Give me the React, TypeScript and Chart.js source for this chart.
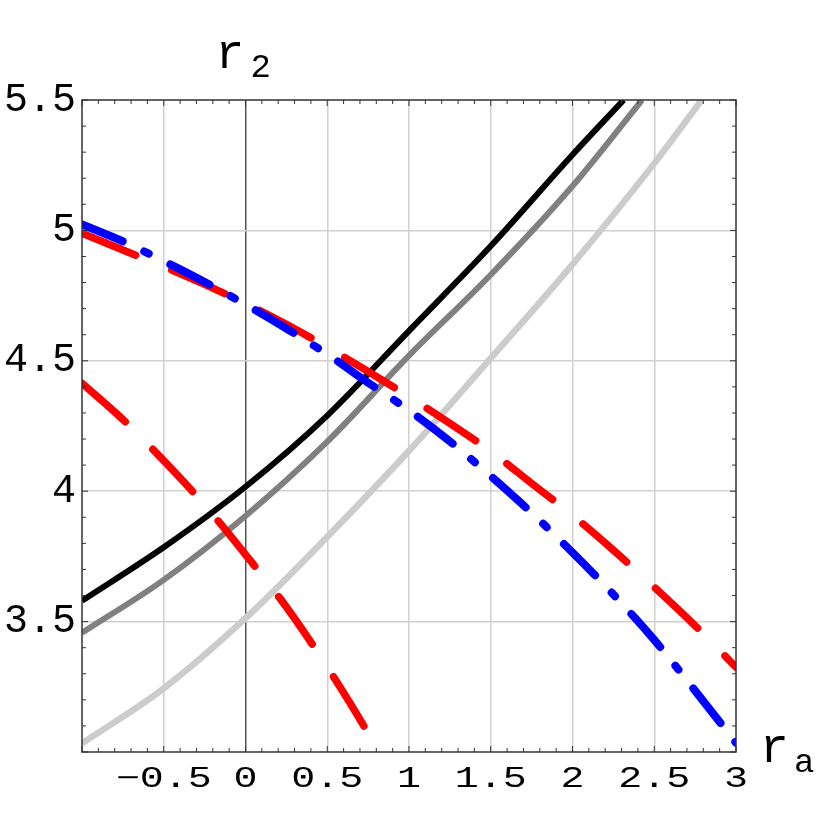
import React, { useEffect, useRef } from 'react';
import { Chart, registerables } from 'chart.js';

Chart.register(...registerables);

// ---- data ----
const xBlack = [-1, -0.5, 0, 0.5, 1, 1.5, 2, 2.313];
const yBlack = [3.58, 3.785, 4.017, 4.29, 4.615, 4.94, 5.29, 5.5];

const xGray = [-1, -0.5, 0, 0.5, 1, 1.5, 2, 2.425];
const yGray = [3.457, 3.66, 3.905, 4.19, 4.52, 4.83, 5.17, 5.5];

const xLight = [-1, -0.5, 0, 0.5, 1, 1.5, 2, 2.5, 2.79];
const yLight = [3.033, 3.244, 3.513, 3.825, 4.155, 4.51, 4.87, 5.257, 5.5];

const xRedUpper = [-1, -0.75, -0.5, -0.25, 0, 0.25, 0.5, 0.75, 1, 1.25, 1.5, 1.75, 2, 2.25, 2.5, 2.75, 3];
const yRedUpper = [4.989, 4.925, 4.861, 4.793, 4.72, 4.64, 4.552, 4.459, 4.362, 4.26, 4.153, 4.03, 3.908, 3.774, 3.632, 3.484, 3.325];

const xBlue = [-1, -0.75, -0.5, -0.25, 0, 0.25, 0.5, 0.75, 1, 1.25, 1.5, 1.75, 2, 2.25, 2.5, 2.75, 3];
const yBlue = [5.023, 4.958, 4.882, 4.802, 4.716, 4.624, 4.525, 4.416, 4.31, 4.191, 4.058, 3.917, 3.765, 3.604, 3.43, 3.235, 3.035];

const xRedLower = [-1, -0.75, -0.5, -0.25, 0, 0.25, 0.5, 0.75, 0.8];
const yRedLower = [4.414, 4.275, 4.117, 3.947, 3.757, 3.556, 3.326, 3.072, 3.015];

const xTickValues = [-1, -0.5, 0, 0.5, 1, 1.5, 2, 2.5, 3];
const xTickLabels = ['', '\u22120.5', '0', '0.5', '1', '1.5', '2', '2.5', '3'];
const yTickValues = [3, 3.5, 4, 4.5, 5, 5.5];
const yTickLabels = ['', '3.5', '4', '4.5', '5', '5.5'];

const xAxisTitle = 'r';
const xAxisSub = 'a';
const yAxisTitle = 'r';
const yAxisSub = '2';

const FONT = '"Liberation Mono", "Courier New", monospace';

function pts(xs: number[], ys: number[]) {
  return xs.map((x, i) => ({ x, y: ys[i] }));
}

function labelFor(values: number[], labels: string[], v: number) {
  const i = values.findIndex((t) => Math.abs(t - v) < 1e-9);
  return i >= 0 ? labels[i] : '';
}

const framePlugin = {
  id: 'framePlugin',
  afterDraw(chart: any) {
    const { ctx, chartArea } = chart;
    const xs = chart.scales.x;
    const ys = chart.scales.y;
    const { left, right, top, bottom } = chartArea;
    ctx.save();
    // minor / major tick marks, inward, all four sides
    ctx.strokeStyle = '#333';
    ctx.lineWidth = 1;
    for (let k = -10; k <= 30; k++) {
      const v = k / 10;
      const px = xs.getPixelForValue(v);
      const major = k % 5 === 0;
      const len = major ? 6 : 4;
      ctx.beginPath();
      ctx.moveTo(px, bottom);
      ctx.lineTo(px, bottom - len);
      ctx.moveTo(px, top);
      ctx.lineTo(px, top + len);
      ctx.stroke();
    }
    for (let k = 30; k <= 55; k++) {
      const v = k / 10;
      const py = ys.getPixelForValue(v);
      const major = k % 5 === 0;
      const len = major ? 6 : 4;
      ctx.beginPath();
      ctx.moveTo(left, py);
      ctx.lineTo(left + len, py);
      ctx.moveTo(right, py);
      ctx.lineTo(right - len, py);
      ctx.stroke();
    }
    // frame
    ctx.strokeStyle = '#333';
    ctx.lineWidth = 1.5;
    ctx.strokeRect(left, top, right - left, bottom - top);

    // x tick labels (drawn slightly compressed vertically, as in the reference)
    ctx.fillStyle = '#000';
    ctx.font = `40px ${FONT}`;
    ctx.textAlign = 'center';
    ctx.textBaseline = 'alphabetic';
    xTickValues.forEach((v, i) => {
      const label = xTickLabels[i];
      if (!label) return;
      const px = xs.getPixelForValue(v);
      ctx.save();
      ctx.translate(px, bottom + 35);
      ctx.scale(1, 0.72);
      ctx.fillText(label, 0, 0);
      ctx.restore();
    });

    // axis titles
    ctx.textAlign = 'left';
    const x0 = xs.getPixelForValue(0);
    ctx.font = `48px ${FONT}`;
    ctx.fillText(yAxisTitle, x0 - 30, top - 32);
    ctx.font = `34px ${FONT}`;
    ctx.fillText(yAxisSub, x0 + 5, top - 23);

    ctx.font = `48px ${FONT}`;
    ctx.fillText(xAxisTitle, right + 24, bottom + 10);
    ctx.font = `34px ${FONT}`;
    ctx.fillText(xAxisSub, right + 58, bottom + 20);
    ctx.restore();
  },
};

export default function App() {
  const ref = useRef<HTMLCanvasElement | null>(null);

  useEffect(() => {
    if (!ref.current) return;
    const common = {
      pointRadius: 0,
      pointHoverRadius: 0,
      fill: false,
      cubicInterpolationMode: 'monotone' as const,
      borderCapStyle: 'round' as const,
      borderJoinStyle: 'round' as const,
      clip: 0,
    };
    const chart = new Chart(ref.current, {
      type: 'line',
      data: {
        datasets: [
          { ...common, label: 'blue', data: pts(xBlue, yBlue), borderColor: '#0000ff', borderWidth: 8, borderDash: [44, 24, 5, 24] },
          { ...common, label: 'red upper', data: pts(xRedUpper, yRedUpper), borderColor: '#ff0000', borderWidth: 7.5, borderDash: [58, 39] },
          { ...common, label: 'red lower', data: pts(xRedLower, yRedLower), borderColor: '#ff0000', borderWidth: 7.5, borderDash: [58, 39] },
          { ...common, label: 'black', data: pts(xBlack, yBlack), borderColor: '#000000', borderWidth: 6, borderCapStyle: 'butt' as const },
          { ...common, label: 'gray', data: pts(xGray, yGray), borderColor: '#808080', borderWidth: 6, borderCapStyle: 'butt' as const },
          { ...common, label: 'light', data: pts(xLight, yLight), borderColor: '#cccccc', borderWidth: 6.5, borderCapStyle: 'butt' as const },
        ],
      },
      options: {
        responsive: false,
        animation: false,
        events: [],
        layout: { padding: { top: 100, right: 94, left: 0, bottom: 0 } },
        plugins: { legend: { display: false }, tooltip: { enabled: false }, title: { display: false } },
        scales: {
          x: {
            type: 'linear',
            min: -1,
            max: 3,
            afterFit: (s: any) => { s.height = 78; },
            afterBuildTicks: (s: any) => { s.ticks = xTickValues.map((v) => ({ value: v })); },
            border: { display: false },
            grid: {
              drawTicks: false,
              color: (c: any) => {
                const v = c.tick ? c.tick.value : NaN;
                if (Math.abs(v) < 1e-9) return '#555555';
                if (Math.abs(v + 1) < 1e-9 || Math.abs(v - 3) < 1e-9) return 'rgba(0,0,0,0)';
                return '#d0d0d0';
              },
              lineWidth: 1.5,
            },
            ticks: {
              display: false,
              autoSkip: false,
              maxRotation: 0,
              callback: (v: any) => labelFor(xTickValues, xTickLabels, Number(v)),
            },
          },
          y: {
            type: 'linear',
            min: 3,
            max: 5.5,
            afterFit: (s: any) => { s.width = 82; },
            afterBuildTicks: (s: any) => { s.ticks = yTickValues.map((v) => ({ value: v })); },
            border: { display: false },
            grid: {
              drawTicks: false,
              color: (c: any) => {
                const v = c.tick ? c.tick.value : NaN;
                if (Math.abs(v - 3) < 1e-9 || Math.abs(v - 5.5) < 1e-9) return 'rgba(0,0,0,0)';
                return '#d0d0d0';
              },
              lineWidth: 1.5,
            },
            ticks: {
              autoSkip: false,
              padding: 6,
              color: '#000',
              font: { family: FONT, size: 40 },
              callback: (v: any) => labelFor(yTickValues, yTickLabels, Number(v)),
            },
          },
        },
      },
      plugins: [framePlugin],
    } as any);
    return () => chart.destroy();
  }, []);

  return (
    <div style={{ position: 'absolute', left: 0, top: 0, width: 830, height: 830, background: '#fff' }}>
      <canvas ref={ref} width={830} height={830} style={{ width: 830, height: 830 }} />
    </div>
  );
}
